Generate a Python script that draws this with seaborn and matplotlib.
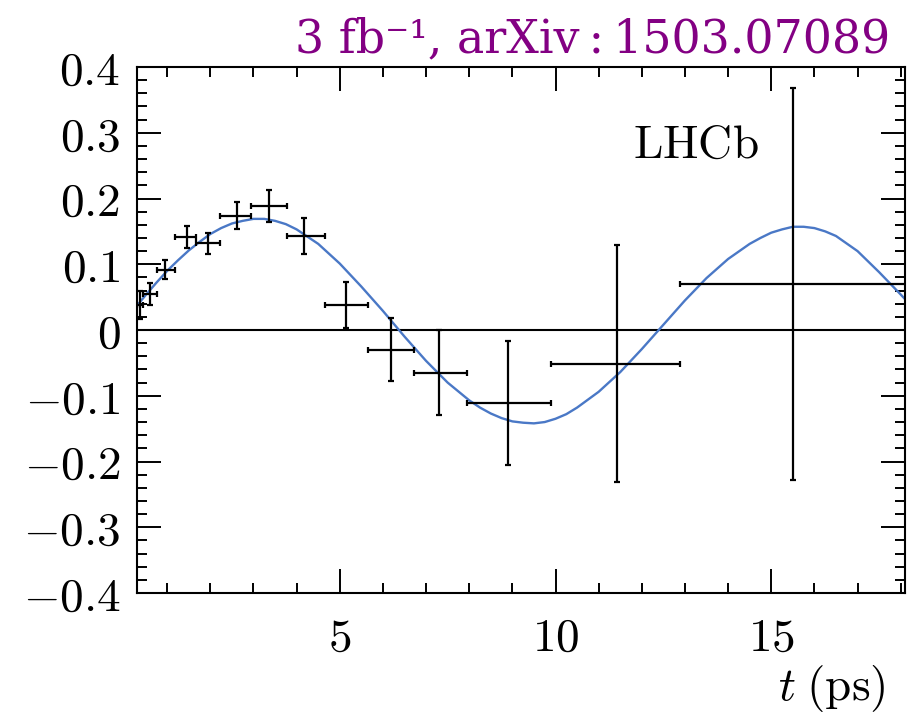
import numpy as np
import pandas as pd
import matplotlib
matplotlib.use("Agg")
import matplotlib.pyplot as plt
import seaborn as sns
from matplotlib.ticker import FixedLocator, FixedFormatter, MultipleLocator

# Binned time-dependent asymmetry: bin mean time, bin edges, asymmetry and its error
t_mean = [0.36, 0.60, 0.95, 1.45, 1.95, 2.61, 3.36, 4.18, 5.14, 6.19, 7.30, 8.91, 11.42, 15.51]
bin_lo = [0.30, 0.43, 0.76, 1.19, 1.67, 2.23, 2.95, 3.78, 4.65, 5.66, 6.71, 7.95, 9.89, 12.88]
bin_hi = [0.43, 0.76, 1.19, 1.67, 2.23, 2.95, 3.78, 4.65, 5.66, 6.71, 7.95, 9.89, 12.88, 18.40]
asym = [0.038, 0.055, 0.092, 0.141, 0.132, 0.174, 0.189, 0.143, 0.038, -0.030, -0.065, -0.111, -0.051, 0.070]
asym_err = [0.021, 0.017, 0.015, 0.017, 0.016, 0.020, 0.024, 0.027, 0.035, 0.048, 0.065, 0.095, 0.180, 0.298]

# Fit projection sampled along decay time
curve_t = [0.2, 0.5, 0.75, 1.0, 1.25, 1.5, 1.75, 2.0, 2.25, 2.5, 2.75, 3.0, 3.25, 3.5, 3.75,
           4.0, 4.5, 5.0, 5.5, 6.0, 6.5, 7.0, 7.5, 8.0, 8.25, 8.5, 8.75, 9.0, 9.25, 9.5,
           9.75, 10.0, 10.25, 10.5, 11.0, 11.5, 12.0, 12.5, 13.0, 13.5, 14.0, 14.5, 14.75,
           15.0, 15.25, 15.5, 15.75, 16.0, 16.25, 16.5, 17.0, 17.5, 18.0, 18.1]
curve_a = [0.029, 0.053, 0.072, 0.090, 0.106, 0.121, 0.134, 0.146, 0.155, 0.162, 0.166,
           0.169, 0.169, 0.166, 0.161, 0.153, 0.131, 0.101, 0.066, 0.029, -0.010, -0.047,
           -0.080, -0.107, -0.118, -0.127, -0.134, -0.139, -0.141, -0.142, -0.140, -0.135,
           -0.128, -0.118, -0.094, -0.064, -0.029, 0.008, 0.045, 0.079, 0.108, 0.131,
           0.140, 0.148, 0.153, 0.157, 0.157, 0.155, 0.150, 0.143, 0.120, 0.088, 0.054,
           0.047]

x_ticks = [5, 10, 15]
x_tick_labels = [r"$5$", r"$10$", r"$15$"]
y_ticks = [-0.4, -0.3, -0.2, -0.1, 0.0, 0.1, 0.2, 0.3, 0.4]
y_tick_labels = [r"$-0.4$", r"$-0.3$", r"$-0.2$", r"$-0.1$", r"$0$",
                 r"$0.1$", r"$0.2$", r"$0.3$", r"$0.4$"]

sns.set_style("ticks")
plt.rcParams["mathtext.fontset"] = "cm"
plt.rcParams["font.family"] = ["DejaVu Serif"]
plt.rcParams["text.color"] = "black"
plt.rcParams["xtick.color"] = "black"
plt.rcParams["ytick.color"] = "black"
plt.rcParams["xtick.labelcolor"] = "black"
plt.rcParams["ytick.labelcolor"] = "black"

W, H = 914, 718
fig = plt.figure(figsize=(W / 100, H / 100), dpi=100, facecolor="white")
ax = fig.add_axes([137 / W, 1 - 593 / H, 768 / W, 526 / H])
ax.set_facecolor("white")

ax.axhline(0, color="black", lw=1.5, zorder=1)

curve = pd.DataFrame({"t": curve_t, "A": curve_a})
sns.lineplot(data=curve, x="t", y="A", ax=ax, color="#4a78c6", lw=1.7, zorder=2)

t_arr = np.array(t_mean)
xerr = [t_arr - np.array(bin_lo), np.array(bin_hi) - t_arr]
ax.errorbar(t_mean, asym, xerr=xerr, yerr=asym_err, fmt="none", ecolor="black",
            elinewidth=1.6, capsize=2.3, capthick=1.6, zorder=3)

ax.set_xlim(0.3, 18.1)
ax.set_ylim(-0.4, 0.4)
ax.set_xlabel("")
ax.set_ylabel("")

ax.xaxis.set_major_locator(FixedLocator(x_ticks))
ax.xaxis.set_major_formatter(FixedFormatter(x_tick_labels))
ax.yaxis.set_major_locator(FixedLocator(y_ticks))
ax.yaxis.set_major_formatter(FixedFormatter(y_tick_labels))
ax.xaxis.set_minor_locator(MultipleLocator(1))
ax.yaxis.set_minor_locator(MultipleLocator(0.02))

ax.tick_params(which="both", direction="in", top=True, right=True, width=1.4,
               color="black", labelcolor="black")
ax.tick_params(which="major", length=17, labelsize=34)
ax.tick_params(which="minor", length=7)
ax.tick_params(axis="x", which="major", pad=16)
ax.tick_params(axis="y", which="major", pad=12)
for sp in ax.spines.values():
    sp.set_linewidth(1.5)
    sp.set_color("black")

ax.text(11.8, 0.262, r"$\mathrm{LHCb}$", fontsize=34, ha="left", va="baseline",
        color="black")

fig.text(885 / W, 1 - 700 / H, r"$t\;(\mathrm{ps})$", fontsize=34,
         ha="right", va="baseline", color="black")
fig.text(890 / W, 1 - 52 / H, "3 fb\u207b\u00b9, arXiv\u2009:\u20091503.07089",
         fontsize=33, color="#830083", ha="right", va="baseline",
         family="DejaVu Serif")

fig.savefig("out.png", dpi=100, facecolor="white")
